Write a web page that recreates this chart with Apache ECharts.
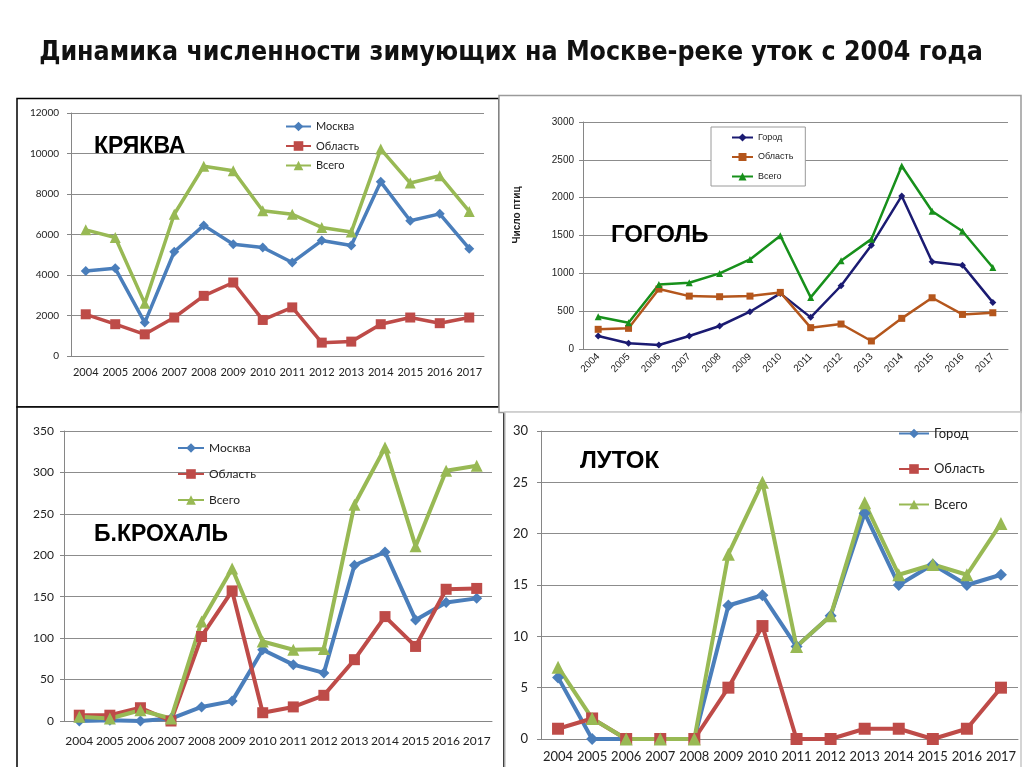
<!DOCTYPE html>
<html>
<head>
<meta charset="utf-8">
<title>Динамика численности зимующих уток</title>
<script src="https://cdn.jsdelivr.net/npm/echarts@6/dist/echarts.min.js"></script>
<style>
html, body { margin: 0; padding: 0; background: #fff; }
#main { width: 1024px; height: 767px; }
</style>
</head>
<body>
<div id="main"></div>
<script>
const years = ['2004', '2005', '2006', '2007', '2008', '2009', '2010', '2011', '2012', '2013', '2014', '2015', '2016', '2017'];

// Кряква
const kryakvaMoskva = [4200, 4330, 1650, 5150, 6450, 5520, 5360, 4620, 5700, 5460, 8600, 6680, 7020, 5300];
const kryakvaOblast = [2060, 1570, 1070, 1900, 2970, 3630, 1780, 2400, 660, 710, 1570, 1900, 1620, 1900];
const kryakvaVsego = [6230, 5850, 2600, 7000, 9370, 9150, 7170, 7000, 6350, 6120, 10220, 8540, 8900, 7140];

// Гоголь
const gogolGorod = [172, 75, 53, 172, 304, 493, 735, 418, 836, 1372, 2023, 1153, 1108, 616];
const gogolOblast = [260, 273, 792, 699, 691, 699, 748, 282, 330, 106, 405, 677, 457, 479];
const gogolVsego = [427, 348, 853, 875, 999, 1183, 1496, 682, 1166, 1452, 2419, 1821, 1557, 1078];

// Большой крохаль
const krokhalMoskva = [0, 1, 0, 3, 17, 24, 86, 68, 58, 188, 204, 122, 143, 148];
const krokhalOblast = [7, 7, 16, 0, 102, 157, 10, 17, 31, 74, 126, 90, 159, 160];
const krokhalVsego = [5, 3, 13, 3, 120, 184, 96, 86, 87, 261, 330, 211, 302, 308];

// Луток
const lutokGorod = [6, 0, 0, 0, 0, 13, 14, 9, 12, 22, 15, 17, 15, 16];
const lutokOblast = [1, 2, 0, 0, 0, 5, 11, 0, 0, 1, 1, 0, 1, 5];
const lutokVsego = [7, 2, 0, 0, 0, 18, 25, 9, 12, 23, 16, 17, 16, 21];

const FONT_XL = 'Lato, "Liberation Sans", sans-serif';
const FONT_AR = '"Liberation Sans", Arial, sans-serif';
const BLUE = '#4a7ebb', RED = '#be4b48', GREEN = '#98b954';

const chart = echarts.init(document.getElementById('main'));

function catAxis(i, font, size, margin, rotate) {
  return {
    type: 'category', gridIndex: i, data: years, boundaryGap: true,
    axisLine: { lineStyle: { color: '#868686' } },
    axisTick: { length: 4, lineStyle: { color: '#868686' } },
    axisLabel: { fontFamily: font, fontSize: size, color: '#222', margin: margin, rotate: rotate || 0, interval: 0 },
    splitLine: { show: false }
  };
}

function valAxis(i, max, step, font, size, margin) {
  return {
    type: 'value', gridIndex: i, min: 0, max: max, interval: step,
    axisLine: { show: true, lineStyle: { color: '#868686' } },
    axisTick: { show: true, length: 4, lineStyle: { color: '#868686' } },
    axisLabel: { fontFamily: font, fontSize: size, color: '#222', margin: margin, formatter: function (v) { return String(v); } },
    splitLine: { lineStyle: { color: '#8c8c8c' } }
  };
}

function line(name, data, i, color, symbol, size, width) {
  return {
    type: 'line', name: name, data: data, xAxisIndex: i, yAxisIndex: i,
    symbol: symbol, symbolSize: size, showAllSymbol: true,
    lineStyle: { width: width, color: color },
    itemStyle: { color: color },
    emphasis: { disabled: true },
    animation: false
  };
}

function legend(names, left, top, font, size, w, h, gap) {
  return {
    orient: 'vertical', left: left, top: top, padding: 0,
    itemWidth: w, itemHeight: h, itemGap: gap,
    data: names,
    formatter: function (n) { return n.split('|')[1]; },
    textStyle: { fontFamily: font, fontSize: size, color: '#222' }
  };
}

const option = {
  backgroundColor: '#fff',
  animation: false,
  grid: [
    { left: 71, top: 113, width: 413, height: 243, containLabel: false, outerBoundsMode: 'none' },
    { left: 583, top: 122, width: 425, height: 227, containLabel: false, outerBoundsMode: 'none' },
    { left: 64, top: 431, width: 428, height: 290, containLabel: false, outerBoundsMode: 'none' },
    { left: 541, top: 431, width: 477, height: 308, containLabel: false, outerBoundsMode: 'none' }
  ],
  xAxis: [
    catAxis(0, FONT_XL, 11, 11),
    catAxis(1, FONT_AR, 10, 6, 45),
    catAxis(2, FONT_XL, 12, 14),
    catAxis(3, FONT_XL, 13, 11)
  ],
  yAxis: [
    valAxis(0, 12000, 2000, FONT_XL, 10, 12),
    valAxis(1, 3000, 500, FONT_AR, 10, 9),
    valAxis(2, 350, 50, FONT_XL, 12, 10),
    valAxis(3, 30, 5, FONT_XL, 13, 13)
  ],
  legend: [
    legend(['kr|Москва', 'kr|Область', 'kr|Всего'], 285, 121, FONT_XL, 11, 25, 12, 8.5),
    Object.assign(legend(['go|Город', 'go|Область', 'go|Всего'], 711, 127, FONT_AR, 9, 21, 10, 10.5), {
      padding: [6, 12, 5, 20], borderColor: '#9a9a9a', borderWidth: 1, backgroundColor: '#fff'
    }),
    legend(['bk|Москва', 'bk|Область', 'bk|Всего'], 177, 442, FONT_XL, 12, 26, 12, 14),
    legend(['lu|Город', 'lu|Область', 'lu|Всего'], 898, 427, FONT_XL, 13, 30, 12, 22.5)
  ],
  series: [
    line('kr|Москва', kryakvaMoskva, 0, BLUE, 'diamond', 10, 3.5),
    line('kr|Область', kryakvaOblast, 0, RED, 'rect', 10, 3.5),
    line('kr|Всего', kryakvaVsego, 0, GREEN, 'triangle', 11, 3.5),
    line('go|Город', gogolGorod, 1, '#1b1b72', 'diamond', 7, 2.5),
    line('go|Область', gogolOblast, 1, '#b4561c', 'rect', 7, 2.5),
    line('go|Всего', gogolVsego, 1, '#17901b', 'triangle', 7, 2.5),
    line('bk|Москва', krokhalMoskva, 2, BLUE, 'diamond', 11, 4),
    line('bk|Область', krokhalOblast, 2, RED, 'rect', 11, 4),
    line('bk|Всего', krokhalVsego, 2, GREEN, 'triangle', 12, 4),
    line('lu|Город', lutokGorod, 3, BLUE, 'diamond', 12, 4),
    line('lu|Область', lutokOblast, 3, RED, 'rect', 12, 4),
    line('lu|Всего', lutokVsego, 3, GREEN, 'triangle', 13, 4)
  ],
  graphic: [
    // рамки панелей
    { type: 'rect', z: -10, shape: { x: 17, y: 98.5, width: 482, height: 308.5 }, style: { fill: '#fff', stroke: '#000', lineWidth: 1.5 } },
    { type: 'rect', z: -9, shape: { x: 499, y: 95.5, width: 522, height: 317 }, style: { fill: '#fff', stroke: '#9a9a9a', lineWidth: 1.5 } },
    { type: 'rect', z: -10, shape: { x: 17, y: 407, width: 487, height: 370 }, style: { fill: '#fff', stroke: '#000', lineWidth: 1.5 } },
    { type: 'rect', z: -9, shape: { x: 505, y: 412, width: 516, height: 370 }, style: { fill: '#fff', stroke: '#c8c8c8', lineWidth: 1.5 } },
    // заголовки
    { type: 'text', z: 10, x: 511, y: 53, style: { text: 'Динамика численности зимующих на Москве-реке уток с 2004 года', font: 'bold 26.5px "Liberation Sans Narrow", "DejaVu Sans Condensed", sans-serif', fill: '#111', textAlign: 'center', textVerticalAlign: 'middle' } },
    { type: 'text', z: 10, x: 94, y: 147, style: { text: 'КРЯКВА', font: 'bold 23px "Liberation Sans", Arial, sans-serif', fill: '#000', textVerticalAlign: 'middle' } },
    { type: 'text', z: 10, x: 611, y: 235, style: { text: 'ГОГОЛЬ', font: 'bold 24px "Liberation Sans", Arial, sans-serif', fill: '#000', textVerticalAlign: 'middle' } },
    { type: 'text', z: 10, x: 94, y: 535, style: { text: 'Б.КРОХАЛЬ', font: 'bold 23px "Liberation Sans", Arial, sans-serif', fill: '#000', textVerticalAlign: 'middle' } },
    { type: 'text', z: 10, x: 580, y: 461, style: { text: 'ЛУТОК', font: 'bold 24px "Liberation Sans", Arial, sans-serif', fill: '#000', textVerticalAlign: 'middle' } },
    { type: 'text', z: 10, x: 517, y: 215, rotation: Math.PI / 2, style: { text: 'Число птиц', font: 'bold 10px "Liberation Sans", Arial, sans-serif', fill: '#222', textAlign: 'center', textVerticalAlign: 'middle' } }
  ]
};

chart.setOption(option);
</script>
</body>
</html>
